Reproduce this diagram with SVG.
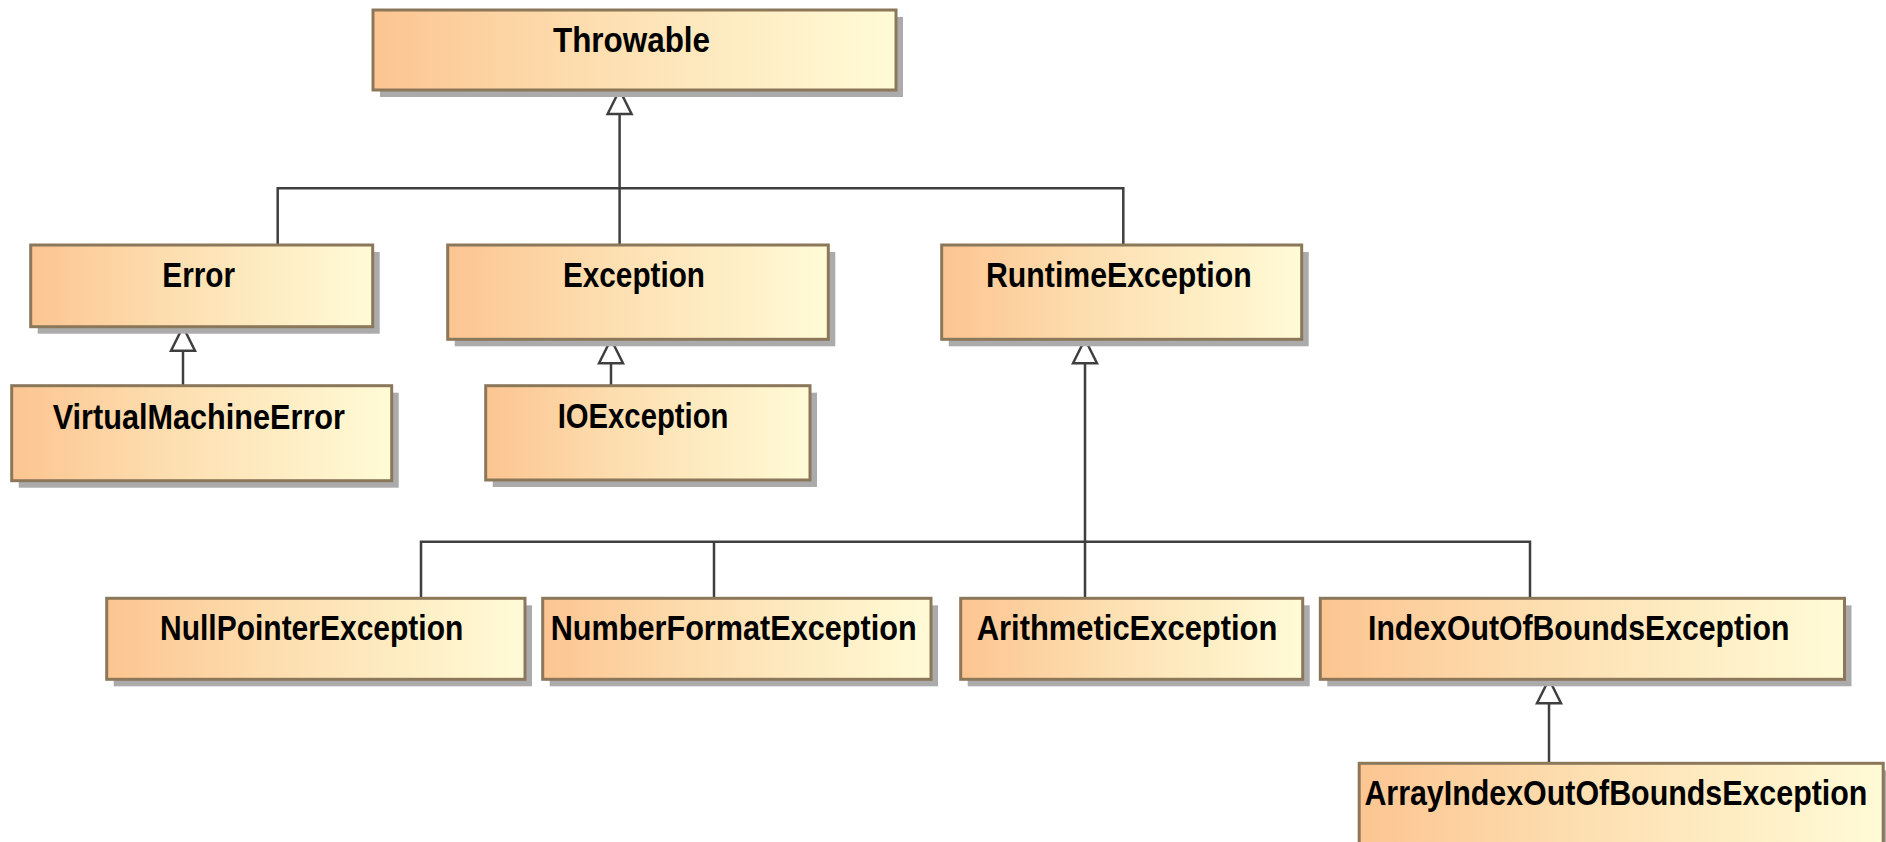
<svg xmlns="http://www.w3.org/2000/svg" width="1886" height="842" viewBox="0 0 1886 842">
  <defs>
    <linearGradient id="fillGrad" x1="0" y1="0" x2="1" y2="0">
      <stop offset="0" stop-color="#fcc591"/>
      <stop offset="0.45" stop-color="#fde0b2"/>
      <stop offset="1" stop-color="#fffbd6"/>
    </linearGradient>
    <!-- hollow UML generalization triangle -->
    <marker id="gen" viewBox="-2 -2 28 28" refX="24" refY="12" markerWidth="28" markerHeight="28" markerUnits="userSpaceOnUse" orient="auto" overflow="visible">
      <path d="M0,0 L24,12 L0,24 Z" fill="#ffffff" stroke="#3f3f3f" stroke-width="2.5" stroke-linejoin="miter"/>
    </marker>
    <style>
      .shadow { fill: #ababab; }
      .box { fill: url(#fillGrad); stroke: #8b775a; stroke-width: 3; }
      .label { font-family: "Liberation Sans", Arial, sans-serif; font-weight: bold; font-size: 35px; fill: #000000; }
      .conn { fill: none; stroke: #3f3f3f; stroke-width: 2.5; }
    </style>
  </defs>

  <rect width="1886" height="842" fill="#ffffff"/>

  <!-- generalization connectors -->
  <g id="connectors">
    <path class="conn" d="M277.7,245 V188.3 H1123.3 V245"/>
    <path class="conn" d="M619.6,245 V90" marker-end="url(#gen)"/>
    <path class="conn" d="M183,385.7 V326.7" marker-end="url(#gen)"/>
    <path class="conn" d="M611,385.7 V339.3" marker-end="url(#gen)"/>
    <path class="conn" d="M421,598.3 V541.7 H1530 V598.3"/>
    <path class="conn" d="M714,541.7 V598.3"/>
    <path class="conn" d="M1085,598.3 V339.3" marker-end="url(#gen)"/>
    <path class="conn" d="M1549,763.3 V679.3" marker-end="url(#gen)"/>
  </g>

  <g id="throwable">
    <rect class="shadow" x="380" y="17" width="523" height="80"/>
    <rect class="box" x="373" y="10" width="523" height="80"/>
    <text class="label" x="553" y="51.7" textLength="157" lengthAdjust="spacingAndGlyphs">Throwable</text>
  </g>

  <g id="error">
    <rect class="shadow" x="37.7" y="252" width="342" height="81.7"/>
    <rect class="box" x="30.7" y="245" width="342" height="81.7"/>
    <text class="label" x="162.3" y="287.3" textLength="72.7" lengthAdjust="spacingAndGlyphs">Error</text>
  </g>

  <g id="exception">
    <rect class="shadow" x="454.7" y="252" width="380.6" height="94.3"/>
    <rect class="box" x="447.7" y="245" width="380.6" height="94.3"/>
    <text class="label" x="563" y="287.3" textLength="142" lengthAdjust="spacingAndGlyphs">Exception</text>
  </g>

  <g id="runtimeException">
    <rect class="shadow" x="948.7" y="252" width="360" height="94.3"/>
    <rect class="box" x="941.7" y="245" width="360" height="94.3"/>
    <text class="label" x="986" y="287.3" textLength="265.7" lengthAdjust="spacingAndGlyphs">RuntimeException</text>
  </g>

  <g id="virtualMachineError">
    <rect class="shadow" x="18.7" y="392.7" width="380" height="95"/>
    <rect class="box" x="11.7" y="385.7" width="380" height="95"/>
    <text class="label" x="52.7" y="429" textLength="292.3" lengthAdjust="spacingAndGlyphs">VirtualMachineError</text>
  </g>

  <g id="ioException">
    <rect class="shadow" x="492.7" y="392.7" width="324.3" height="94.3"/>
    <rect class="box" x="485.7" y="385.7" width="324.3" height="94.3"/>
    <text class="label" x="557.7" y="428.3" textLength="170.7" lengthAdjust="spacingAndGlyphs">IOException</text>
  </g>

  <g id="nullPointerException">
    <rect class="shadow" x="113.7" y="605.3" width="418.3" height="81"/>
    <rect class="box" x="106.7" y="598.3" width="418.3" height="81"/>
    <text class="label" x="160" y="640" textLength="303.3" lengthAdjust="spacingAndGlyphs">NullPointerException</text>
  </g>

  <g id="numberFormatException">
    <rect class="shadow" x="549.7" y="605.3" width="388.3" height="81"/>
    <rect class="box" x="542.7" y="598.3" width="388.3" height="81"/>
    <text class="label" x="550.7" y="640" textLength="366" lengthAdjust="spacingAndGlyphs">NumberFormatException</text>
  </g>

  <g id="arithmeticException">
    <rect class="shadow" x="967.7" y="605.3" width="342" height="81"/>
    <rect class="box" x="960.7" y="598.3" width="342" height="81"/>
    <text class="label" x="976.7" y="640" textLength="300.7" lengthAdjust="spacingAndGlyphs">ArithmeticException</text>
  </g>

  <g id="indexOutOfBoundsException">
    <rect class="shadow" x="1327.3" y="605.3" width="524.2" height="81"/>
    <rect class="box" x="1320.3" y="598.3" width="524.2" height="81"/>
    <text class="label" x="1368" y="640" textLength="421.4" lengthAdjust="spacingAndGlyphs">IndexOutOfBoundsException</text>
  </g>

  <g id="arrayIndexOutOfBoundsException">
    <rect class="shadow" x="1366.2" y="770.3" width="524" height="100"/>
    <rect class="box" x="1359.2" y="763.3" width="524" height="100"/>
    <text class="label" x="1364.4" y="805" textLength="503" lengthAdjust="spacingAndGlyphs">ArrayIndexOutOfBoundsException</text>
  </g>
</svg>
